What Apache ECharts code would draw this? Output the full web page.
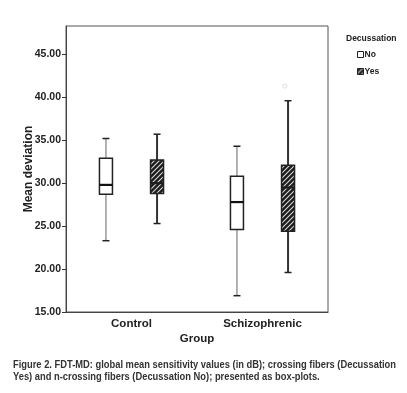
<!DOCTYPE html>
<html><head><meta charset="utf-8">
<script src="https://cdn.jsdelivr.net/npm/echarts@6/dist/echarts.min.js"></script>
<style>html,body{margin:0;padding:0;background:#fff}#c{width:407px;height:393px}</style>
</head><body><div id="c"></div>
<script>
const categories = ['Control', 'Schizophrenic'];
const seriesNames = ['No', 'Yes'];
// [low whisker, Q1, median, Q3, high whisker]
const boxNo = [[23.3, 28.7, 29.8, 32.9, 35.2], [16.9, 24.6, 27.8, 30.8, 34.3]];
const boxYes = [[25.3, 28.8, 30.0, 32.7, 35.7], [19.6, 24.4, 29.5, 32.1, 39.6]];
const outliersYes = [[1, 41.3]];
const yTicks = [15, 20, 25, 30, 35, 40, 45];
const captionLines = [
  'Figure 2. FDT-MD: global mean sensitivity values (in dB); crossing fibers (Decussation',
  'Yes) and n-crossing fibers (Decussation No); presented as box-plots.'
];

// hatch pattern
const tile = document.createElement('canvas');
tile.width = 5; tile.height = 5;
(function () {
  const g = tile.getContext('2d');
  g.fillStyle = '#1c1c1c'; g.fillRect(0, 0, 5, 5);
  g.strokeStyle = '#d8d8d8'; g.lineWidth = 1.1;
  g.beginPath();
  g.moveTo(-1, 6); g.lineTo(6, -1);
  g.moveTo(-1, 1); g.lineTo(1, -1);
  g.moveTo(4, 6); g.lineTo(6, 4);
  g.stroke();
})();
const hatch = { image: tile, repeat: 'repeat' };

function render(side, st) {
  return function (params, api) {
    const cat = api.value(0);
    const band = api.size([1, 0])[0];
    const cx = api.coord([cat, 0])[0] + side * band * 0.195;
    const y = [1, 2, 3, 4, 5].map(i => api.coord([cat, api.value(i)])[1]);
    const half = 6.5, cap = 3.5;
    return {
      type: 'group',
      children: [
        { type: 'line', shape: { x1: cx, y1: y[4], x2: cx, y2: y[3] }, style: { stroke: st.whisker, lineWidth: st.ww } },
        { type: 'line', shape: { x1: cx, y1: y[1], x2: cx, y2: y[0] }, style: { stroke: st.whisker, lineWidth: st.ww } },
        { type: 'line', shape: { x1: cx - cap, y1: y[4], x2: cx + cap, y2: y[4] }, style: { stroke: '#222', lineWidth: 1.5 } },
        { type: 'line', shape: { x1: cx - cap, y1: y[0], x2: cx + cap, y2: y[0] }, style: { stroke: '#222', lineWidth: 1.5 } },
        { type: 'rect', shape: { x: cx - half, y: y[3], width: 2 * half, height: y[1] - y[3] }, style: { fill: st.fill, stroke: '#222', lineWidth: 1.5 } },
        { type: 'line', shape: { x1: cx - half, y1: y[2], x2: cx + half, y2: y[2] }, style: { stroke: st.median, lineWidth: 2.2 } }
      ]
    };
  };
}

const chart = echarts.init(document.getElementById('c'), null, { renderer: 'canvas' });

const font = 'Liberation Sans, Arial, sans-serif';
const capFont = 'bold 10.6px "Liberation Sans Narrow", "Liberation Sans", sans-serif';
const mc = document.createElement('canvas').getContext('2d');
mc.font = capFont;
const capScale = 383 / mc.measureText(captionLines[0]).width;

chart.setOption({
  animation: false,
  backgroundColor: '#fff',
  title: {
    text: 'Decussation', left: 341, top: 29,
    textStyle: { fontFamily: font, fontWeight: 'bold', fontSize: 8.5, color: '#222' }
  },
  legend: {
    orient: 'vertical', left: 352, top: 45, itemWidth: 6, itemHeight: 6, itemGap: 8,
    icon: 'rect',
    textStyle: { fontFamily: font, fontWeight: 'bold', fontSize: 8.5, color: '#222', padding: [0, 0, 0, -4] },
    data: [
      { name: seriesNames[0], itemStyle: { color: '#fff', borderColor: '#222', borderWidth: 1 } },
      { name: seriesNames[1], itemStyle: { color: hatch, borderColor: '#222', borderWidth: 1 } }
    ]
  },
  grid: { left: 66, right: 79, top: 26, bottom: 81, show: true, borderColor: '#555', borderWidth: 1, backgroundColor: 'transparent' },
  xAxis: {
    type: 'category', data: categories,
    name: 'Group', nameLocation: 'middle', nameGap: 21, nameMoveOverlap: false,
    nameTextStyle: { fontFamily: font, fontWeight: 'bold', fontSize: 11.5, color: '#222' },
    axisLine: { lineStyle: { color: '#444', width: 1 } },
    axisTick: { alignWithLabel: true, length: 4, lineStyle: { color: '#222', width: 1.5 } },
    axisLabel: { margin: 6, fontFamily: font, fontWeight: 'bold', fontSize: 11.5, color: '#222' }
  },
  yAxis: {
    type: 'value', min: 15, max: 48.3, interval: 5,
    name: 'Mean deviation', nameLocation: 'middle', nameGap: 31, nameRotate: 90, nameMoveOverlap: false,
    nameTextStyle: { fontFamily: font, fontWeight: 'bold', fontSize: 12, color: '#222' },
    axisLine: { show: true, lineStyle: { color: '#444', width: 1 } },
    axisTick: { show: true, length: 4, customValues: yTicks, lineStyle: { color: '#333' } },
    axisLabel: { margin: 5, customValues: yTicks, fontFamily: font, fontWeight: 'bold', fontSize: 10.5, color: '#222', formatter: v => v.toFixed(2) },
    splitLine: { show: false }
  },
  series: [
    {
      name: seriesNames[0], type: 'custom', encode: { x: 0, y: [1, 2, 3, 4, 5] },
      itemStyle: { color: '#fff' },
      data: boxNo.map((b, i) => [i].concat(b)),
      renderItem: render(-1, { fill: '#fff', whisker: '#666', ww: 1, median: '#111' })
    },
    {
      name: seriesNames[1], type: 'custom', encode: { x: 0, y: [1, 2, 3, 4, 5] },
      itemStyle: { color: '#222' },
      data: boxYes.map((b, i) => [i].concat(b)),
      renderItem: render(1, { fill: hatch, whisker: '#333', ww: 2, median: '#1c1c1c' })
    },
    {
      name: 'outliers', type: 'custom', encode: { x: 0, y: 1 },
      data: outliersYes,
      renderItem: function (params, api) {
        const band = api.size([1, 0])[0];
        const p = api.coord([api.value(0), api.value(1)]);
        return { type: 'circle', shape: { cx: p[0] + band * 0.17, cy: p[1], r: 2 }, style: { fill: 'none', stroke: '#ddd', lineWidth: 1 } };
      }
    }
  ],
  graphic: captionLines.map((t, i) => ({
    type: 'text', x: 13, y: 365 + i * 12.5, scaleX: capScale,
    style: { text: t, font: capFont, fill: '#333', textVerticalAlign: 'middle' }
  }))
});
</script>
</body></html>
